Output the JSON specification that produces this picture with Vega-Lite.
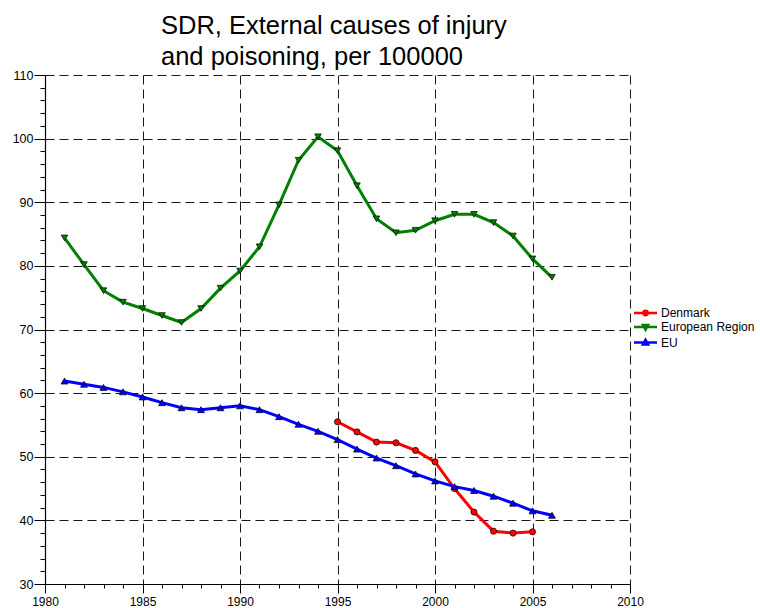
{
  "$schema": "https://vega.github.io/schema/vega-lite/v6.json",
  "width": 585,
  "height": 509,
  "autosize": {"type": "none"},
  "padding": {"left": 45, "top": 75, "right": 130, "bottom": 24},
  "background": "white",
  "config": {"view": {"stroke": null}, "font": "Liberation Sans"},
  "title": {
    "text": ["SDR, External causes of injury", "and poisoning, per 100000"],
    "anchor": "start",
    "align": "left",
    "frame": "group",
    "dx": 116,
    "dy": 32,
    "offset": 6,
    "baseline": "bottom",
    "fontSize": 25.5,
    "lineHeight": 31,
    "fontWeight": "normal",
    "font": "Liberation Sans",
    "color": "#000000"
  },
  "data": {
    "values": [
      {"year": 1995, "series": "Denmark", "value": 55.5},
      {"year": 1996, "series": "Denmark", "value": 53.9},
      {"year": 1997, "series": "Denmark", "value": 52.3},
      {"year": 1998, "series": "Denmark", "value": 52.2},
      {"year": 1999, "series": "Denmark", "value": 51.0},
      {"year": 2000, "series": "Denmark", "value": 49.2},
      {"year": 2001, "series": "Denmark", "value": 45.0},
      {"year": 2002, "series": "Denmark", "value": 41.3},
      {"year": 2003, "series": "Denmark", "value": 38.3},
      {"year": 2004, "series": "Denmark", "value": 38.0},
      {"year": 2005, "series": "Denmark", "value": 38.2},
      {"year": 1981, "series": "European Region", "value": 84.4},
      {"year": 1982, "series": "European Region", "value": 80.2},
      {"year": 1983, "series": "European Region", "value": 76.1},
      {"year": 1984, "series": "European Region", "value": 74.3},
      {"year": 1985, "series": "European Region", "value": 73.3},
      {"year": 1986, "series": "European Region", "value": 72.2},
      {"year": 1987, "series": "European Region", "value": 71.1},
      {"year": 1988, "series": "European Region", "value": 73.3},
      {"year": 1989, "series": "European Region", "value": 76.5},
      {"year": 1990, "series": "European Region", "value": 79.2},
      {"year": 1991, "series": "European Region", "value": 83.0},
      {"year": 1992, "series": "European Region", "value": 89.6},
      {"year": 1993, "series": "European Region", "value": 96.6},
      {"year": 1994, "series": "European Region", "value": 100.3},
      {"year": 1995, "series": "European Region", "value": 98.1},
      {"year": 1996, "series": "European Region", "value": 92.6},
      {"year": 1997, "series": "European Region", "value": 87.4},
      {"year": 1998, "series": "European Region", "value": 85.2},
      {"year": 1999, "series": "European Region", "value": 85.6},
      {"year": 2000, "series": "European Region", "value": 87.1},
      {"year": 2001, "series": "European Region", "value": 88.1},
      {"year": 2002, "series": "European Region", "value": 88.1},
      {"year": 2003, "series": "European Region", "value": 86.8},
      {"year": 2004, "series": "European Region", "value": 84.7},
      {"year": 2005, "series": "European Region", "value": 81.1},
      {"year": 2006, "series": "European Region", "value": 78.2},
      {"year": 1981, "series": "EU", "value": 61.9},
      {"year": 1982, "series": "EU", "value": 61.4},
      {"year": 1983, "series": "EU", "value": 60.9},
      {"year": 1984, "series": "EU", "value": 60.2},
      {"year": 1985, "series": "EU", "value": 59.4},
      {"year": 1986, "series": "EU", "value": 58.5},
      {"year": 1987, "series": "EU", "value": 57.7},
      {"year": 1988, "series": "EU", "value": 57.4},
      {"year": 1989, "series": "EU", "value": 57.7},
      {"year": 1990, "series": "EU", "value": 58.0},
      {"year": 1991, "series": "EU", "value": 57.4},
      {"year": 1992, "series": "EU", "value": 56.3},
      {"year": 1993, "series": "EU", "value": 55.1},
      {"year": 1994, "series": "EU", "value": 54.0},
      {"year": 1995, "series": "EU", "value": 52.7},
      {"year": 1996, "series": "EU", "value": 51.2},
      {"year": 1997, "series": "EU", "value": 49.8},
      {"year": 1998, "series": "EU", "value": 48.6},
      {"year": 1999, "series": "EU", "value": 47.3},
      {"year": 2000, "series": "EU", "value": 46.2},
      {"year": 2001, "series": "EU", "value": 45.3},
      {"year": 2002, "series": "EU", "value": 44.7},
      {"year": 2003, "series": "EU", "value": 43.8},
      {"year": 2004, "series": "EU", "value": 42.7},
      {"year": 2005, "series": "EU", "value": 41.5},
      {"year": 2006, "series": "EU", "value": 40.8}
    ]
  },
  "layer": [
    {
      "mark": {"type": "line", "strokeWidth": 3},
      "encoding": {
        "x": {
          "field": "year", "type": "quantitative",
          "scale": {"domain": [1980, 2010], "nice": false, "zero": false},
          "axis": {
            "title": null, "values": [1980, 1985, 1990, 1995, 2000, 2005, 2010], "format": "d",
            "labelFontSize": 12, "labelColor": "#000", "labelFont": "Liberation Sans", "labelPadding": 3,
            "tickSize": 9, "tickColor": "#000", "domainColor": "#000", "domainWidth": 1.2,
            "grid": true, "gridColor": "#000", "gridDash": [9, 5], "gridWidth": 1, "gridOpacity": 0.9,
            "labelFlush": false
          }
        },
        "y": {
          "field": "value", "type": "quantitative",
          "scale": {"domain": [30, 110], "nice": false, "zero": false},
          "axis": {
            "title": null, "values": [30, 40, 50, 60, 70, 80, 90, 100, 110],
            "labelFontSize": 12.5, "labelColor": "#000", "labelFont": "Liberation Sans", "labelPadding": 1,
            "tickSize": 11, "tickColor": "#000", "domainColor": "#000", "domainWidth": 1.2,
            "grid": true, "gridColor": "#000", "gridDash": [9, 5], "gridWidth": 1, "gridOpacity": 0.9,
            "labelFlush": false
          }
        },
        "stroke": {
          "field": "series", "type": "nominal",
          "sort": ["Denmark", "European Region", "EU"],
          "scale": {"range": ["#ff0000", "#008000", "#0000ff"]},
          "legend": {
            "title": null, "orient": "none", "legendX": 594, "legendY": 231.5, "padding": 0,
            "symbolType": "M-2.3,0H2.3", "symbolSize": 100, "symbolStrokeWidth": 2.6,
            "labelFontSize": 12, "labelFont": "Liberation Sans", "labelColor": "#000", "labelOffset": 9, "rowPadding": -1.5,
            "encode": {
              "symbols": {
                "update": {
                  "shape": {"signal": "datum.value === 'Denmark' ? 'M-2.3,0H2.3M0.42,0A0.42,0.42,0,1,1,-0.42,0A0.42,0.42,0,1,1,0.42,0Z' : datum.value === 'EU' ? 'M-2.3,0H2.3M-0.5,0.38L0.5,0.38L0,-0.5Z' : 'M-2.3,0H2.3M-0.5,-0.38L0.5,-0.38L0,0.5Z'"},
                  "fill": {"scale": "stroke", "field": "value"},
                  "fillOpacity": {"value": 1},
                  "stroke": {"scale": "stroke", "field": "value"},
                  "strokeWidth": {"value": 2.6}
                }
              }
            }
          }
        }
      }
    },
    {
      "mark": {"type": "point", "filled": true, "stroke": "#000", "strokeWidth": 0.7, "opacity": 1},
      "encoding": {
        "x": {
          "field": "year", "type": "quantitative",
          "axis": {
            "title": null, "orient": "bottom",
            "values": [1980,1981,1982,1983,1984,1985,1986,1987,1988,1989,1990,1991,1992,1993,1994,1995,1996,1997,1998,1999,2000,2001,2002,2003,2004,2005,2006,2007,2008,2009,2010],
            "labels": false, "domain": false, "grid": false, "tickSize": 4, "tickColor": "#000"
          }
        },
        "y": {
          "field": "value", "type": "quantitative",
          "axis": {
            "title": null, "orient": "left",
            "values": [30,32,34,36,38,40,42,44,46,48,50,52,54,56,58,60,62,64,66,68,70,72,74,76,78,80,82,84,86,88,90,92,94,96,98,100,102,104,106,108,110],
            "labels": false, "domain": false, "grid": false, "tickSize": 5, "tickColor": "#000"
          }
        },
        "fill": {
          "field": "series", "type": "nominal",
          "scale": {"domain": ["Denmark", "European Region", "EU"], "range": ["#ff0000", "#008000", "#0000ff"]},
          "legend": null
        },
        "shape": {
          "field": "series", "type": "nominal",
          "scale": {"domain": ["Denmark", "European Region", "EU"], "range": ["circle", "triangle-down", "triangle-up"]},
          "legend": null
        },
        "size": {
          "field": "series", "type": "nominal",
          "scale": {"domain": ["Denmark", "European Region", "EU"], "range": [38, 48, 48]},
          "legend": null
        }
      }
    }
  ],
  "resolve": {"axis": {"x": "independent", "y": "independent"}}
}
